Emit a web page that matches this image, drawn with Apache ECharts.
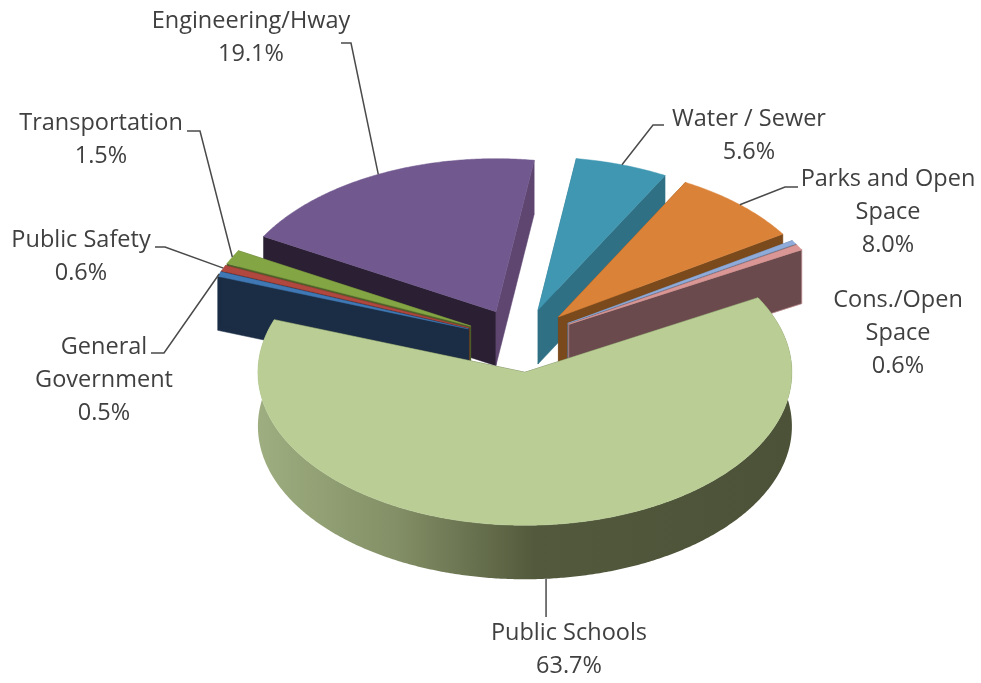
<!DOCTYPE html>
<html>
<head>
<meta charset="utf-8">
<title>Capital spending by function</title>
<style>
  html, body { margin: 0; padding: 0; background: #fff; }
  #chart { width: 981px; height: 683px; }
</style>
<script src="https://cdn.jsdelivr.net/npm/echarts@6/dist/echarts.min.js"></script>
</head>
<body>
<div id="chart"></div>
<script>
// Shares in percent, listed counter-clockwise from the right-hand edge of Public Schools.
const categories = ['Cons./Open Space', 'Other', 'Parks and Open Space', 'Water / Sewer', 'Engineering/Hway',
  'Transportation', 'Public Safety', 'General Government', 'Public Schools'];
const values = [0.6, 0.4, 8.0, 5.6, 19.1, 1.5, 0.6, 0.5, 63.7];
// Wrapped label text; an empty list means the slice carries no label.
const labelLines = [['Cons./Open', 'Space'], [], ['Parks and Open', 'Space'], ['Water / Sewer'], ['Engineering/Hway'],
  ['Transportation'], ['Public Safety'], ['General', 'Government'], ['Public Schools']];

// Slice colours: top face, visible cut face, far cut face, and the pale edge on a cut face.
const topColors = ['#d99694', '#8fabd9', '#db8239', '#3f97b2', '#71588f', '#84a544', '#b0483f', '#3f78b4', '#b9cd94'];
const cutColors = ['#6b4a4d', '#5d6f8c', '#7a4a1c', '#2f7084', '#5e4670', '#4e6029', '#6a2a28', '#1a2d44', '#4c5238'];
const farColors = ['#6b4a4d', '#5d6f8c', '#7a4a1c', '#2f7084', '#2b2033', '#4e6029', '#6a2a28', '#1a2d44', '#4c5238'];
const cutEdges = ['#b98a8a', null, null, null, null, null, null, null, null];

// Back-to-front painting order of the slices.
const paintOrder = [4, 3, 2, 1, 0, 5, 6, 7, 8];

// Projection of the tilted pie.
const pie = { cx: 520.5, cy: 340.4, rx: 267, ry: 153, depth: 54, explode: 0.209, startDeg: 29.2 };

// Label placement per category: text centre, first line y, leader knee and leader end.
// A knee with a null x drops straight down from the slice.
const labelLayout = [
  { x: 898, y: 300 },
  null,
  { x: 888, y: 179, knee: [785, 187], end: [798, 187] },
  { x: 749, y: 119, knee: [653, 125], end: [664, 125] },
  { x: 251, y: 21, knee: [351, 43], end: [341, 43] },
  { x: 101, y: 123, knee: [200, 131], end: [187, 131] },
  { x: 81, y: 240, knee: [165, 247], end: [155, 247] },
  { x: 104, y: 347, knee: [164, 353], end: [151, 353] },
  { x: 569, y: 633, knee: [null, 617], end: [null, 617] }
];
const lineGap = 33;

const total = values.reduce((a, b) => a + b, 0);
const spans = [];
let running = pie.startDeg;
values.forEach(v => {
  const next = running + v / total * 360;
  spans.push({ a0: running, a1: next, mid: (running + next) / 2 });
  running = next;
});

const rad = d => d * Math.PI / 180;

function apexOf(span) {
  return [
    pie.cx + pie.explode * pie.rx * Math.cos(rad(span.mid)),
    pie.cy - pie.explode * pie.ry * Math.sin(rad(span.mid))
  ];
}
function rimPoint(apex, deg, drop) {
  return [apex[0] + pie.rx * Math.cos(rad(deg)), apex[1] - pie.ry * Math.sin(rad(deg)) + (drop || 0)];
}
function arcPoints(apex, a0, a1, drop) {
  const n = Math.max(2, Math.ceil(Math.abs(a1 - a0) / 0.5));
  const pts = [];
  for (let i = 0; i <= n; i++) pts.push(rimPoint(apex, a0 + (a1 - a0) * i / n, drop));
  return pts;
}
function cutFace(apex, deg, fill, edge) {
  const tip = rimPoint(apex, deg);
  return {
    type: 'polygon',
    shape: { points: [apex, tip, [tip[0], tip[1] + pie.depth], [apex[0], apex[1] + pie.depth]] },
    style: { fill: fill, stroke: edge || fill, lineWidth: edge ? 0.8 : 0.5 }
  };
}

function renderSlice(params, api) {
  const i = api.value(0);
  const span = spans[i];
  const apex = apexOf(span);
  const children = [
    cutFace(apex, span.a1, farColors[i]),
    cutFace(apex, span.a0, cutColors[i], cutEdges[i])
  ];
  // Outer wall, only the part of the rim that turns towards the viewer matters.
  if (span.a1 - span.a0 > 90) {
    const top = arcPoints(apex, span.a0, span.a1, 0);
    const bottom = arcPoints(apex, span.a1, span.a0, pie.depth);
    children.push({
      type: 'polygon',
      shape: { points: top.concat(bottom) },
      style: {
        fill: new echarts.graphic.LinearGradient(0, 0, 1, 0, [
          { offset: 0, color: '#9eae80' },
          { offset: 0.26, color: '#838f66' },
          { offset: 0.52, color: '#52593c' },
          { offset: 1, color: '#4c5238' }
        ])
      }
    });
  }
  children.push({
    type: 'polygon',
    shape: { points: [apex].concat(arcPoints(apex, span.a0, span.a1, 0)) },
    style: { fill: topColors[i], stroke: topColors[i], lineWidth: 0.5 }
  });
  return { type: 'group', children: children };
}

function renderLabel(params, api) {
  const i = api.value(0);
  const layout = labelLayout[i];
  const children = [];
  if (layout.knee) {
    const apex = apexOf(spans[i]);
    const bottomFacing = Math.sin(rad(spans[i].mid)) < 0;
    const start = rimPoint(apex, spans[i].mid, bottomFacing ? pie.depth : 0);
    const place = p => [p[0] === null ? start[0] : p[0], p[1]];
    children.push({
      type: 'polyline',
      shape: { points: [start, place(layout.knee), place(layout.end)] },
      style: { fill: null, stroke: '#4a4a4a', lineWidth: 1.5 }
    });
  }
  labelLines[i].concat(values[i].toFixed(1) + '%').forEach((line, k) => {
    children.push({
      type: 'text',
      style: {
        text: line, x: layout.x, y: layout.y + k * lineGap,
        align: 'center', verticalAlign: 'middle',
        fontFamily: '"Open Sans"', fontSize: 23.5, fill: '#404040'
      }
    });
  });
  return { type: 'group', children: children };
}

const chart = echarts.init(document.getElementById('chart'), null, { renderer: 'canvas' });
chart.setOption({
  animation: false,
  backgroundColor: '#ffffff',
  series: [
    {
      type: 'custom', coordinateSystem: 'none', renderItem: renderSlice, silent: true,
      data: paintOrder.map(i => [i])
    },
    {
      type: 'custom', coordinateSystem: 'none', renderItem: renderLabel, silent: true, z: 3,
      data: categories.map((c, i) => [i]).filter(d => labelLayout[d[0]])
    }
  ]
});
</script>
</body>
</html>
